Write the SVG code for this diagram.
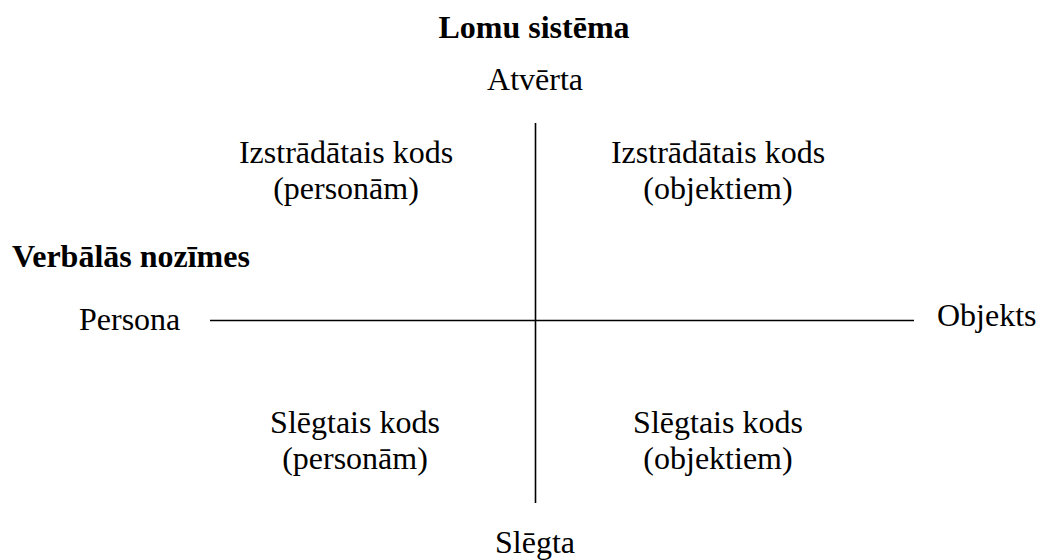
<svg xmlns="http://www.w3.org/2000/svg" width="1038" height="560" viewBox="0 0 1038 560">
<style>
text{font-family:"Liberation Serif","Times New Roman",serif;font-size:32px;fill:#000}
.b{font-weight:bold}
.c{text-anchor:middle}
.ax{stroke:#000;stroke-width:1.6;fill:none}
</style>
<rect width="1038" height="560" fill="#fff"/>
<g id="connectors">
<line class="ax" x1="535.5" y1="123" x2="535.5" y2="503"/>
<line class="ax" x1="210" y1="320.5" x2="914" y2="320.5"/>
</g>
<g id="title"><text class="b c" x="534" y="38">Lomu sistēma</text></g>
<g id="atverta"><text class="c" x="535" y="90">Atvērta</text></g>
<g id="slegta"><text class="c" x="535" y="553">Slēgta</text></g>
<g id="verbalas"><text class="b" x="12" y="267">Verbālās nozīmes</text></g>
<g id="persona"><text x="79" y="330">Persona</text></g>
<g id="objekts"><text x="937" y="326">Objekts</text></g>
<g id="q-izstr-pers"><text class="c" x="346" y="163">Izstrādātais kods</text><text class="c" x="346" y="199">(personām)</text></g>
<g id="q-izstr-obj"><text class="c" x="718" y="163">Izstrādātais kods</text><text class="c" x="718" y="199">(objektiem)</text></g>
<g id="q-slegt-pers"><text class="c" x="355" y="433">Slēgtais kods</text><text class="c" x="355" y="469">(personām)</text></g>
<g id="q-slegt-obj"><text class="c" x="718" y="433">Slēgtais kods</text><text class="c" x="718" y="469">(objektiem)</text></g>
</svg>
